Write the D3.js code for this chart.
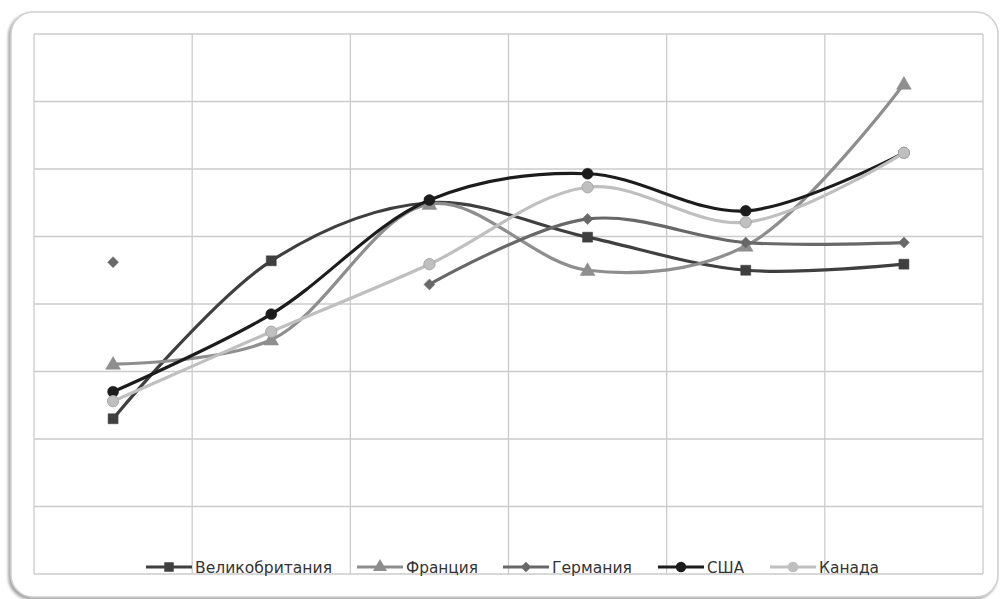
<!DOCTYPE html>
<html><head><meta charset="utf-8">
<script src="https://cdn.jsdelivr.net/npm/d3@7"></script>
<style>body{margin:0;background:#fff}svg{display:block}</style>
</head><body>
<svg id="c" width="1002" height="599"></svg>
<script>
const categories = ["1", "2", "3", "4", "5", "6"];
const seriesNames = ["Великобритания", "Франция", "Германия", "США", "Канада"];
const ukValues      = [2.30, 4.64, 5.50, 4.99, 4.50, 4.59];
const franceValues  = [3.11, 3.47, 5.48, 4.50, 4.86, 7.26];
const germanyValues = [4.62, null, 4.29, 5.26, 4.91, 4.91];
const usaValues     = [2.70, 3.85, 5.54, 5.93, 5.38, 6.24];
const canadaValues  = [2.56, 3.59, 4.59, 5.73, 5.21, 6.24];
const yTicks = [0, 1, 2, 3, 4, 5, 6, 7, 8];

const colors  = ["#3f3f3f", "#8e8e8e", "#686868", "#1c1c1c", "#bfbfbf"];
const diamond = { draw(ctx, size) { const r = Math.sqrt(size / 2); ctx.moveTo(0, -r); ctx.lineTo(r, 0); ctx.lineTo(0, r); ctx.lineTo(-r, 0); ctx.closePath(); } };
const symbols = [d3.symbolSquare, d3.symbolTriangle, diamond, d3.symbolCircle, d3.symbolCircle];
const symSize = [100, 95, 60, 95, 100];
const allValues = [ukValues, franceValues, germanyValues, usaValues, canadaValues];

const svg = d3.select("#c");
const defs = svg.append("defs");
const f = defs.append("filter").attr("id","sh").attr("x","-5%").attr("y","-5%").attr("width","110%").attr("height","110%");
f.append("feDropShadow").attr("dx",-2).attr("dy",2).attr("stdDeviation",1.5).attr("flood-color","#888").attr("flood-opacity",0.8);
svg.append("rect").attr("x",11).attr("y",12).attr("width",987).attr("height",585)
  .attr("rx",22).attr("ry",22).attr("fill","#fff").attr("stroke","#cfcfcf").attr("stroke-width",1.5)
  .attr("filter","url(#sh)");

const L = 34, R = 983, T = 34, B = 574;
const x = d3.scaleBand().domain(categories).range([L, R]);
const y = d3.scaleLinear().domain([0, 8]).range([B, T]);

const g = svg.append("g");
g.selectAll("line.h").data(yTicks).join("line")
  .attr("x1", L).attr("x2", R).attr("y1", d => y(d)).attr("y2", d => y(d))
  .attr("stroke", "#cbcbcb").attr("stroke-width", 1.3);
const vb = categories.map(c => x(c)).concat([R]);
g.selectAll("line.v").data(vb).join("line")
  .attr("y1", T).attr("y2", B).attr("x1", d => d).attr("x2", d => d)
  .attr("stroke", "#cbcbcb").attr("stroke-width", 1.3);

const cx = c => x(c) + x.bandwidth() / 2;
const line = d3.line()
  .defined(d => d.v !== null)
  .x(d => cx(d.c)).y(d => y(d.v))
  .curve(d3.curveCatmullRom.alpha(0.5));

allValues.forEach((vals, i) => {
  const pts = vals.map((v, j) => ({ c: categories[j], v }));
  g.append("path").datum(pts).attr("d", line)
    .attr("fill", "none").attr("stroke", colors[i]).attr("stroke-width", 3.2)
    .attr("stroke-linejoin", "round");
  g.selectAll(null).data(pts.filter(d => d.v !== null)).join("path")
    .attr("d", d3.symbol().type(symbols[i]).size(symSize[i]))
    .attr("transform", d => `translate(${cx(d.c)},${y(d.v) + (i === 1 ? 1 : 0)})`)
    .attr("fill", colors[i])
    .attr("stroke", i === 4 ? "#a8a8a8" : colors[i]).attr("stroke-width", i === 4 ? 1 : 0.5);
});

// legend
const legX = [146, 357, 503, 658, 770];
const legW = [137, 72, 80, 37, 60];
const lg = svg.append("g");
seriesNames.forEach((n, i) => {
  const gx = legX[i], gy = 567;
  lg.append("line").attr("x1", gx).attr("x2", gx + 46).attr("y1", gy).attr("y2", gy)
    .attr("stroke", colors[i]).attr("stroke-width", 3.2);
  lg.append("path").attr("d", d3.symbol().type(symbols[i]).size(symSize[i] * 0.9)())
    .attr("transform", `translate(${gx + 23},${gy})`).attr("fill", colors[i]);
  lg.append("text").attr("x", gx + 49).attr("y", gy + 5.5).text(n)
    .attr("font-family", "'DejaVu Sans Condensed', 'DejaVu Sans', sans-serif")
    .attr("font-size", 15.5).attr("fill", "#333")
    .attr("textLength", legW[i]).attr("lengthAdjust", "spacingAndGlyphs");
});
</script>
</body></html>
